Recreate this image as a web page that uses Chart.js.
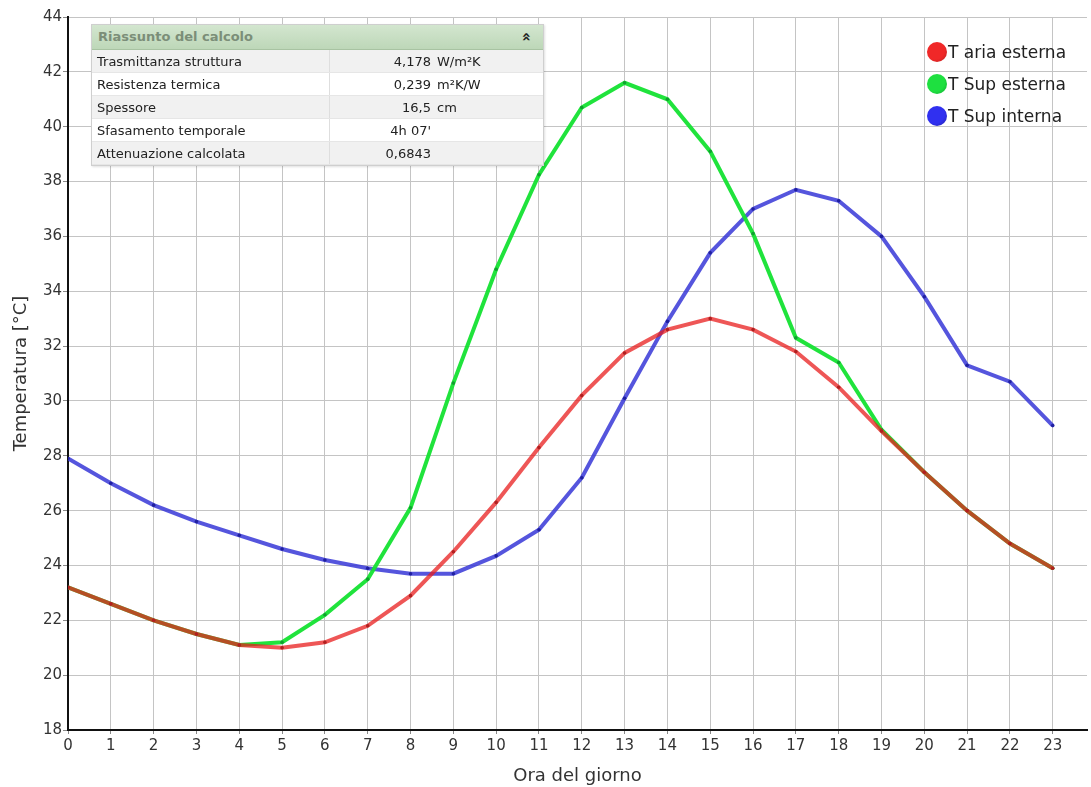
<!DOCTYPE html>
<html>
<head>
<meta charset="utf-8">
<script src="https://cdn.jsdelivr.net/npm/chart.js@4/dist/chart.umd.min.js"></script>
<style>
  body { margin: 0; background: #fff; }
  #wrap { position: relative; width: 1091px; height: 787px; }
  #summary {
    position: absolute; left: 91px; top: 24px; width: 451px;
    font: 13px "DejaVu Sans", sans-serif; color: #222;
    border: 1px solid #cfcfcf; background: #fff;
    box-shadow: 1px 1px 2px rgba(0,0,0,0.12);
  }
  #summary .hdr {
    height: 24px; line-height: 24px; padding-left: 6px;
    background: linear-gradient(#d3e6cf, #bdd7b8);
    border-bottom: 1px solid #a8c3a2;
    color: #7b8e78; font-weight: bold; position: relative;
  }
  #summary .hdr span {
    position: absolute; right: 12px; top: 0; color: #222; font-size: 15px;
    transform: rotate(-90deg); display: inline-block;
  }
  #summary table { border-collapse: collapse; width: 100%; }
  #summary td { height: 22px; padding: 0; border-bottom: 1px solid #e6e6e6; white-space: nowrap; }
  #summary tr:nth-child(odd) td { background: #f1f1f1; }
  #summary td.k { width: 232px; padding-left: 5px; border-right: 1px solid #dedede; }
  #summary td.v { width: 101px; text-align: right; padding-right: 6px; }
  #legend { position: absolute; left: 927px; top: 41px; font: 17px "DejaVu Sans", sans-serif; color: #222; white-space: nowrap; }
  #legend div { height: 32px; position: relative; width: 160px; }
  #legend i { position: absolute; left: 0; top: 1px; width: 20px; height: 20px; border-radius: 50%; }
  #legend b { position: absolute; left: 21px; top: 0; font-weight: normal; line-height: 22px; }
</style>
</head>
<body>
<div id="wrap">
  <canvas id="lineChart"></canvas>
  <div id="summary">
    <div class="hdr">Riassunto del calcolo<span>&raquo;</span></div>
    <table id="sumTable"></table>
  </div>
  <div id="legend"></div>
</div>
<script>
const hours = [0, 1, 2, 3, 4, 5, 6, 7, 8, 9, 10, 11, 12, 13, 14, 15, 16, 17, 18, 19, 20, 21, 22, 23];
const tAriaEsterna = [23.2, 22.6, 22.0, 21.5, 21.1, 21.0, 21.2, 21.8, 22.9, 24.5, 26.3, 28.3, 30.2, 31.75, 32.6, 33.0, 32.6, 31.8, 30.5, 28.9, 27.4, 26.0, 24.8, 23.9];
const tSupEsterna = [23.2, 22.6, 22.0, 21.5, 21.1, 21.2, 22.2, 23.5, 26.1, 30.65, 34.8, 38.25, 40.7, 41.6, 41.0, 39.1, 36.1, 32.3, 31.4, 28.95, 27.4, 26.0, 24.8, 23.9];
const tSupInterna = [27.9, 27.0, 26.2, 25.6, 25.1, 24.6, 24.2, 23.9, 23.7, 23.7, 24.35, 25.3, 27.2, 30.1, 32.9, 35.4, 37.0, 37.7, 37.3, 36.0, 33.8, 31.3, 30.7, 29.1];

const seriesNames = ["T aria esterna", "T Sup esterna", "T Sup interna"];
const summaryLabels = ["Trasmittanza struttura", "Resistenza termica", "Spessore", "Sfasamento temporale", "Attenuazione calcolata"];
const summaryValues = ["4,178", "0,239", "16,5", "4h 07'", "0,6843"];
const summaryUnits = ["W/m\u00B2K", "m\u00B2K/W", "cm", "", ""];

// summary table
const tbl = document.getElementById("sumTable");
summaryLabels.forEach((l, i) => {
  const tr = document.createElement("tr");
  tr.innerHTML = '<td class="k">' + l + '</td><td class="v">' + summaryValues[i] + '</td><td>' + summaryUnits[i] + '</td>';
  tbl.appendChild(tr);
});

const toXY = (vals) => vals.map((v, i) => ({ x: hours[i], y: v }));

const lineColors = ["rgba(232, 30, 30, 0.75)", "rgba(20, 225, 50, 0.95)", "rgba(55, 55, 215, 0.85)"];
const dotColors = ["#b02020", "#10a030", "#2020a0"];
const legendColors = ["#f02828", "#1ee040", "#3030f0"];

// legend
const leg = document.getElementById("legend");
seriesNames.forEach((n, i) => {
  const d = document.createElement("div");
  d.innerHTML = '<i style="background: radial-gradient(circle at 40% 40%, ' + legendColors[i] + ' 55%, ' + dotColors[i] + ' 100%)"></i><b>' + n + '</b>';
  leg.appendChild(d);
});

const data = {
  datasets: [tAriaEsterna, tSupEsterna, tSupInterna].map((vals, i) => ({
    label: seriesNames[i],
    data: toXY(vals),
    borderColor: lineColors[i],
    borderWidth: 4,
    pointRadius: 1.8,
    pointBorderWidth: 0,
    pointBackgroundColor: dotColors[i],
    tension: 0,
    fill: false,
  })),
};

const tickFont = { family: "DejaVu Sans", size: 15 };
const titleFont = { family: "DejaVu Sans", size: 18 };

new Chart(document.getElementById("lineChart"), {
  type: "line",
  data: data,
  options: {
    responsive: true,
    maintainAspectRatio: false,
    animation: false,
    layout: { padding: { top: 17, right: 0, left: 0, bottom: 0 } },
    plugins: { legend: { display: false }, tooltip: { enabled: false } },
    scales: {
      x: {
        type: "linear",
        min: 0,
        max: 23.8,
        ticks: { stepSize: 1, includeBounds: false, color: "#333", font: tickFont, padding: 3 },
        grid: { color: "#c4c4c4", tickColor: "#888", tickLength: 4 },
        border: { color: "#111", width: 2 },
        title: { display: true, text: "Ora del giorno", color: "#333", font: titleFont, padding: { top: 4, bottom: 0 } },
        afterFit: (s) => { s.height = 57; },
      },
      y: {
        min: 18,
        max: 44,
        ticks: { stepSize: 2, color: "#333", font: tickFont, padding: 1 },
        grid: { color: "#c4c4c4", tickColor: "#888", tickLength: 5 },
        border: { color: "#111", width: 2 },
        title: { display: true, text: "Temperatura [\u00B0C]", color: "#333", font: titleFont, padding: { top: 11, bottom: 0 } },
        afterFit: (s) => { s.width = 68; },
      },
    },
  },
});
</script>
</body>
</html>
